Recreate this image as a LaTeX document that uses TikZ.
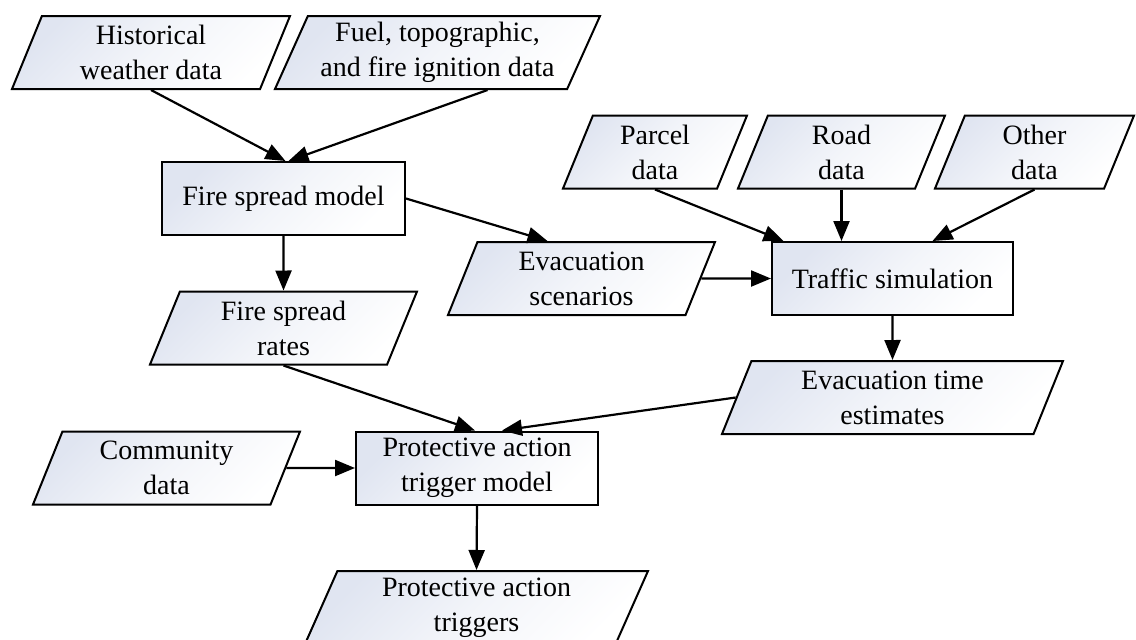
\documentclass[tikz,border=0pt]{standalone}
\usepackage{fontspec}
\setmainfont{Liberation Serif}
\usetikzlibrary{shapes.geometric,arrows.meta}
\definecolor{datablue}{RGB}{224,229,241}
\tikzset{
	proc/.style={draw,line width=1pt,minimum width=#1,minimum height=36.5pt,inner sep=1pt,align=center,top color=datablue,bottom color=white,middle color=white!60!datablue,shading angle=45},
	data/.style={trapezium,trapezium left angle=63,trapezium right angle=117,trapezium stretches body,draw,line width=1pt,minimum width=#1,minimum height=36.5pt,inner sep=1pt,align=center,top color=datablue,bottom color=white,middle color=white!60!datablue,shading angle=45},
	flow/.style={-{Triangle[length=10pt,width=8pt]},line width=1.1pt}
}

\begin{document}
\begin{tikzpicture}[x=0.5pt,y=-0.5pt,font=\fontsize{14}{17.5}\selectfont]
	\useasboundingbox (0,0) rectangle (1136,639);

	% inputs
	\node [data=139pt] (hist) at (151,52.5) {Historical\\weather data};
	\node [data=162.5pt] (fuel) at (437.5,52.5) {Fuel, topographic,\\and fire ignition data};
	\node [data=92pt] (parcel) at (655,152) {Parcel\\data};
	\node [data=103.5pt] (road) at (841.5,152) {Road\\data};
	\node [data=99.5pt] (other) at (1034.5,152) {Other\\data};
	\node [data=133.5pt] (comm) at (166.5,468) {Community\\data};

	% models
	\node [proc=121.5pt] (fsm) at (283.5,198.5) {Fire spread model};
	\node [proc=120.5pt] (traffic) at (892.5,278.5) {Traffic simulation};
	\node [proc=121pt] (pat) at (477,468) {Protective action\\trigger model};

	% outputs
	\node [data=133.5pt] (fsr) at (283.5,328) {Fire spread\\rates};
	\node [data=133.5pt] (evs) at (581.5,278.5) {Evacuation\\scenarios};
	\node [data=170.5pt] (est) at (892.5,397.5) {Evacuation time\\estimates};
	\node [data=171.5pt] (trig) at (476.5,607.5) {Protective action\\triggers};

	\draw [flow] (hist.south) -- ([xshift=1pt]fsm.north);
	\draw [flow] ([xshift=25pt]fuel.south) -- ([xshift=2.5pt]fsm.north);
	\draw [flow] (fsm.east) -- ([xshift=-17pt]evs.north);
	\draw [flow] (fsm.south) -- (fsr.north);
	\draw [flow] (parcel.south) -- ([xshift=-54.5pt]traffic.north);
	\draw [flow] (road.south) -- (road.south |- traffic.north);
	\draw [flow] (other.south) -- ([xshift=20pt]traffic.north);
	\draw [flow] (evs.east) -- (traffic.west);
	\draw [flow] (traffic.south) -- (est.north);
	\draw [flow] (fsr.south) -- ([xshift=-1pt]pat.north);
	\draw [flow] (est.west) -- ([xshift=12.5pt]pat.north);
	\draw [flow] (comm.east) -- (pat.west);
	\draw [flow] (pat.south) -- (trig.north);
\end{tikzpicture}
\end{document}
